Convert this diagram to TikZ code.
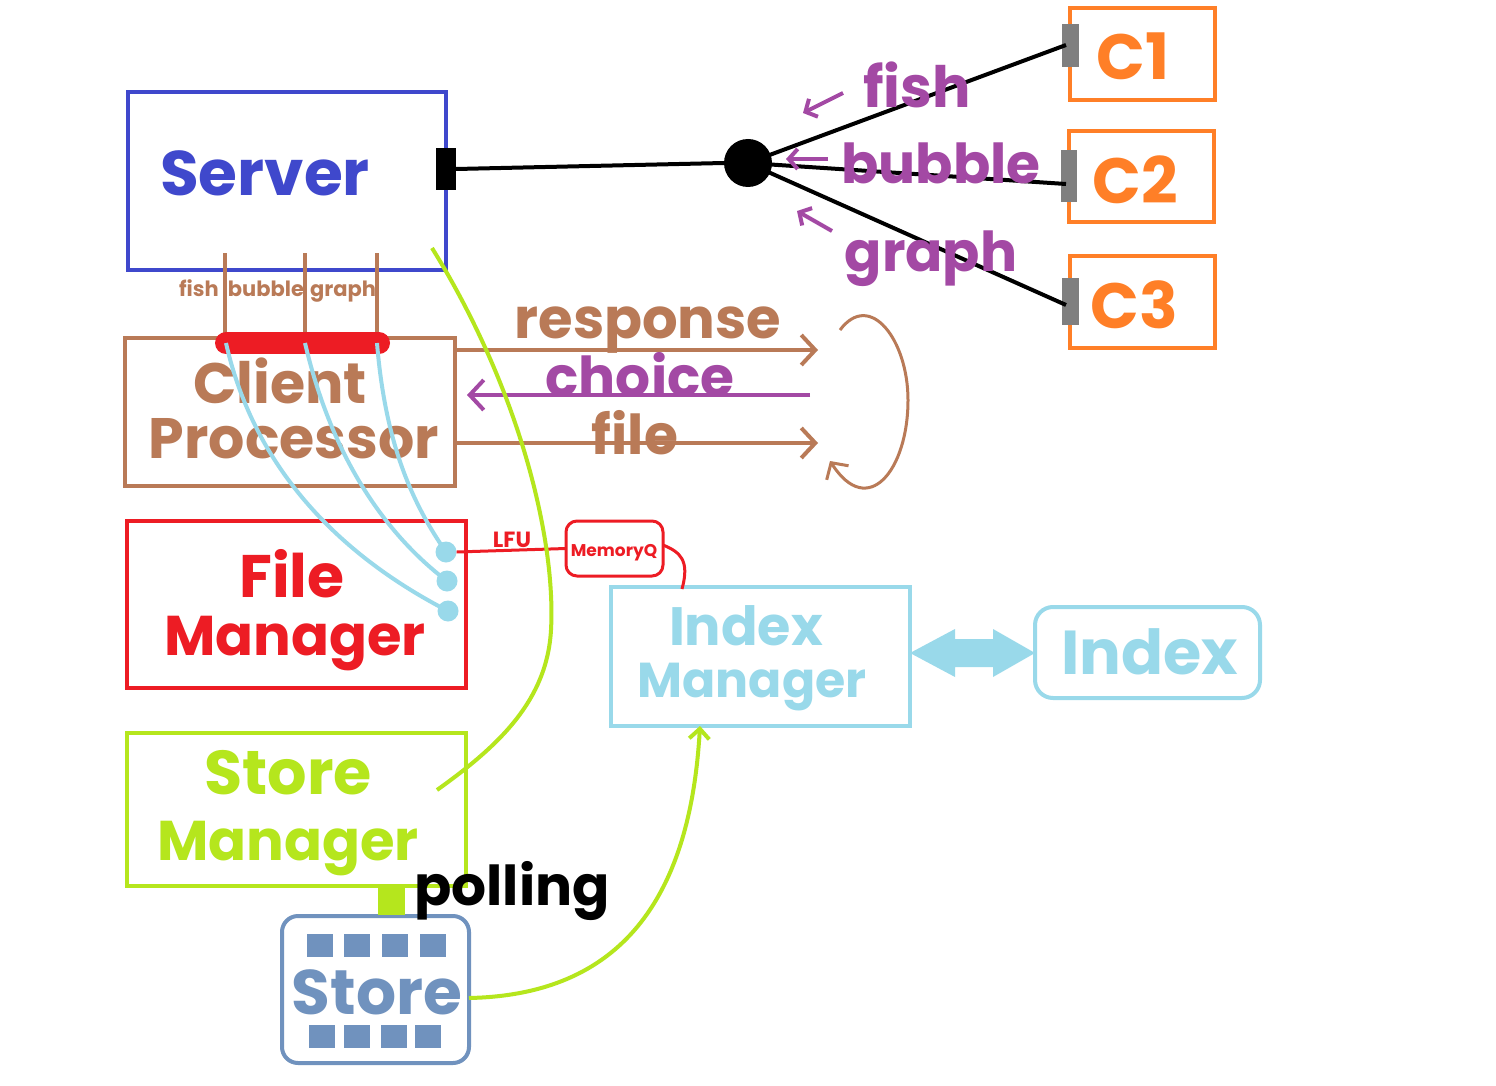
\documentclass[tikz,border=0pt]{standalone}
\usepackage{fontspec}
\setmainfont{Poppins}
\usetikzlibrary{arrows.meta}
\definecolor{srvblue}{HTML}{3F48CC}
\definecolor{cpbrown}{HTML}{B97A57}
\definecolor{fmred}{HTML}{ED1C24}
\definecolor{ltblue}{HTML}{99D9EA}
\definecolor{smgreen}{HTML}{B5E61D}
\definecolor{cpurple}{HTML}{A349A4}
\definecolor{corange}{HTML}{FF7F27}
\definecolor{stblue}{HTML}{7092BE}
\definecolor{pgray}{HTML}{7F7F7F}
\newcommand\myfs[1]{\fontsize{#1}{#1}\selectfont\bfseries}
\tikzset{
  boxnode/.style={draw, line width=4pt, minimum width=#1, inner sep=0pt, outer sep=0pt},
  lbl/.style={inner sep=0pt, outer sep=0pt, anchor=base},
  barb/.style={-{Straight Barb[length=14pt,width=30pt,line width=4pt]}},
  sbarb/.style={line width=4pt, -{Straight Barb[length=9pt,width=20pt,line width=4pt]}}
}
\begin{document}
\begin{tikzpicture}[x=1pt,y=-1pt]
\useasboundingbox[fill=white] (0,0) rectangle (1496,1086);

% ---------- boxes ----------
\node[boxnode=318pt, minimum height=178pt, draw=srvblue] (server) at (287,181) {};
\node[boxnode=330pt, minimum height=148pt, draw=cpbrown] (cp) at (290,412) {};
\node[boxnode=339pt, minimum height=167pt, draw=fmred] (fm) at (296.5,604.5) {};
\node[boxnode=339pt, minimum height=153pt, draw=smgreen] (sm) at (296.5,809.5) {};
\node[boxnode=299pt, minimum height=139pt, draw=ltblue] (im) at (760.5,656.5) {};
\node[boxnode=225pt, minimum height=91pt, draw=ltblue, rounded corners=18pt] (idx) at (1147.5,652.5) {};
\node[boxnode=187pt, minimum height=147pt, draw=stblue, rounded corners=16pt] (store) at (375.5,989.5) {};
\node[boxnode=97pt, minimum height=55pt, draw=fmred, line width=3pt, rounded corners=11pt] (mq) at (614.5,548.5) {};
\node[boxnode=145pt, minimum height=92pt, draw=corange] (c1) at (1142.5,54) {};
\node[boxnode=145pt, minimum height=91pt, draw=corange] (c2) at (1141.5,176.5) {};
\node[boxnode=145pt, minimum height=92pt, draw=corange] (c3) at (1142.5,302) {};

% ---------- ports ----------
\node[fill=black, minimum width=20pt, minimum height=42pt, inner sep=0pt] (sport) at (446,169) {};
\node[fill=pgray, minimum width=17pt, minimum height=43pt, inner sep=0pt] (p1) at (1070,46) {};
\node[fill=pgray, minimum width=16pt, minimum height=52pt, inner sep=0pt] (p2) at (1069,176) {};
\node[fill=pgray, minimum width=17pt, minimum height=47pt, inner sep=0pt] (p3) at (1070,301) {};
\coordinate (p1e) at (1066,45);
\coordinate (p2e) at (1066,184);
\coordinate (p3e) at (1066,305);
\node[circle, fill=black, minimum size=48pt, inner sep=0pt] (hub) at (748,163) {};

% ---------- hub connectors ----------
\draw[line width=4pt] (sport.east) -- (hub.west);
\draw[line width=4pt] (hub.center) -- (p1e);
\draw[line width=4pt] (hub.center) -- (p2e);
\draw[line width=4pt] (hub.center) -- (p3e);

% ---------- C labels ----------
\node[lbl, text=corange] (c1t) at (1133,80) {\myfs{64}C1};
\node[lbl, text=corange] (c2t) at (1135,204) {\myfs{64}C2};
\node[lbl, text=corange] (c3t) at (1134,328) {\myfs{64}C3};

% ---------- purple request labels ----------
\node[lbl, text=cpurple] (tfish) at (917,108) {\myfs{57}fish};
\node[lbl, text=cpurple] (tbubble) at (941,184) {\myfs{55}bubble};
\node[lbl, text=cpurple] (tgraph) at (931,271) {\myfs{55}graph};
\coordinate (af1) at (843,93);  \coordinate (af2) at (803,113);
\coordinate (ab1) at (828,159); \coordinate (ab2) at (786,159);
\coordinate (ag1) at (832,231); \coordinate (ag2) at (797,211);
\draw[cpurple, sbarb] (af1) -- (af2);
\draw[cpurple, sbarb] (ab1) -- (ab2);
\draw[cpurple, sbarb] (ag1) -- (ag2);

% ---------- server text ----------
\node[lbl, text=srvblue] (tserver) at (265,196) {\myfs{63}Server};

% ---------- brown links server -> red bar ----------
\coordinate (l1t) at (225,253); \coordinate (l1b) at (225,343);
\coordinate (l2t) at (305,253); \coordinate (l2b) at (305,343);
\coordinate (l3t) at (377,253); \coordinate (l3b) at (377,343);
\draw[cpbrown, line width=4pt] (l1t) -- (l1b);
\draw[cpbrown, line width=4pt] (l2t) -- (l2b);
\draw[cpbrown, line width=4pt] (l3t) -- (l3b);
\node[lbl, text=cpbrown] (sfish) at (199,296) {\myfs{21}fish};
\node[lbl, text=cpbrown] (sbubble) at (266,296) {\myfs{21}bubble};
\node[lbl, text=cpbrown] (sgraph) at (343,296) {\myfs{21}graph};
\coordinate (rb1) at (226,343); \coordinate (rb2) at (379,343);
\draw[fmred, line width=22pt, line cap=round] (rb1) -- (rb2);

% ---------- client processor ----------
\node[lbl, text=cpbrown] (tclient) at (280,403) {\myfs{57}Client};
\node[lbl, text=cpbrown] (tproc) at (294,458) {\myfs{57}Processor};

% response / choice / file
\coordinate (r1) at (455,350); \coordinate (r2) at (818,350);
\coordinate (ch1) at (810,395); \coordinate (ch2) at (467,395);
\coordinate (f1) at (455,443); \coordinate (f2) at (818,443);
\draw[cpbrown, line width=4pt, barb] (r1) -- (r2);
\draw[cpbrown, line width=4pt, barb] (f1) -- (f2);
\draw[cpurple, line width=4pt, barb] (ch1) -- (ch2);
\node[lbl, text=cpbrown] (tresp) at (648,338) {\myfs{56}response};
\node[lbl, text=cpurple] (tchoice) at (640,396) {\myfs{55}choice};
\node[lbl, text=cpbrown] (tfile) at (635,454) {\myfs{55}file};
\coordinate (lp1) at (840,330); \coordinate (lp2) at (908,400); \coordinate (lp3) at (830,461);
\draw[cpbrown, line width=3pt, -{Straight Barb[length=12pt,width=26pt,line width=3pt]}]
  (lp1) .. controls (870,290) and (908,340) .. (lp2)
        .. controls (908,470) and (868,520) .. (lp3);

% ---------- file manager ----------
\node[lbl, text=fmred] (tfile2) at (292,597) {\myfs{60}File};
\node[lbl, text=fmred] (tfm) at (295,655) {\myfs{56}Manager};
\node[circle, fill=ltblue, minimum size=21pt, inner sep=0pt] (d1) at (446,552) {};
\node[circle, fill=ltblue, minimum size=21pt, inner sep=0pt] (d2) at (447,581) {};
\node[circle, fill=ltblue, minimum size=21pt, inner sep=0pt] (d3) at (448,611) {};
\draw[ltblue, line width=4pt] (rb1) .. controls (250,450) and (320,545) .. (d3.center);
\draw[ltblue, line width=4pt] (l2b) .. controls (330,450) and (380,530) .. (d2.center);
\draw[ltblue, line width=4pt] (l3b) .. controls (385,440) and (410,500) .. (d1.center);

% LFU / MemoryQ
\draw[fmred, line width=3pt] (d1.east) -- (mq.west);
\node[lbl, text=fmred] (tlfu) at (512,547) {\fontsize{22}{22}\selectfont\bfseries LFU};
\node[lbl, text=fmred] (tmq) at (614,556) {\fontsize{17}{17}\selectfont\bfseries MemoryQ};
\coordinate (mqo) at (663,545);
\coordinate (imt) at (682,589);
\draw[fmred, line width=3pt] (mqo) .. controls (680,552) and (690,560) .. (imt);

% ---------- green store-manager link ----------
\coordinate (g1) at (432,248); \coordinate (g2) at (551,630); \coordinate (g3) at (437,790);
\draw[smgreen, line width=4pt] (g1) .. controls (520,390) and (556,540) .. (g2)
  .. controls (547,700) and (500,745) .. (g3);

% ---------- index manager ----------
\node[lbl, text=ltblue] (tindex) at (746,645) {\myfs{54}Index};
\node[lbl, text=ltblue] (timgr) at (752,697) {\myfs{49}Manager};
\node[lbl, text=ltblue] (tidx) at (1150,674) {\myfs{62}Index};
\fill[ltblue] (im.east |- 0,653) -- (955,629) -- (955,639) -- (993,639) -- (993,629)
  -- (idx.west |- 0,653) -- (993,677) -- (993,667) -- (955,667) -- (955,677) -- cycle;

% ---------- store manager ----------
\node[lbl, text=smgreen] (tstore) at (288,794) {\myfs{62}Store};
\node[lbl, text=smgreen] (tsm) at (288,860) {\myfs{56}Manager};
\node[fill=smgreen, minimum width=27pt, minimum height=29pt, inner sep=0pt] (poll) at (391.5,900.5) {};
\node[lbl, text=black] (tpoll) at (512,905) {\myfs{55}polling};

% ---------- store ----------
\foreach \x [count=\i] in {320,357,395,433} {
  \node[fill=stblue, minimum width=26pt, minimum height=23pt, inner sep=0pt] (sq\i) at (\x,945.5) {};
}
\foreach \x [count=\i] in {322,357,394,427.5} {
  \node[fill=stblue, minimum width=26pt, minimum height=23pt, inner sep=0pt] (sb\i) at (\x,1036.5) {};
}
\node[lbl, text=stblue] (tst) at (377,1014) {\myfs{63}Store};
\draw[smgreen, line width=4pt, -{Straight Barb[length=10pt,width=20pt,line width=4pt]}]
  (store.east |- 0,998) .. controls (620,995) and (690,900) .. (im.south -| 700,0);
\end{tikzpicture}
\end{document}
